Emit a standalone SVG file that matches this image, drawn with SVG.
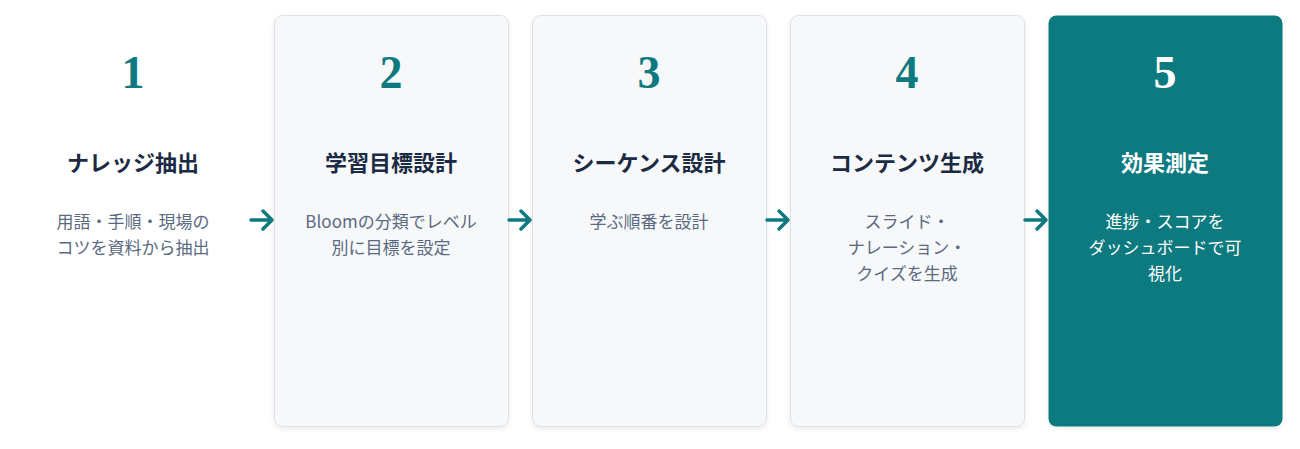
<svg xmlns="http://www.w3.org/2000/svg" width="1300" height="449" viewBox="0 0 1300 449">
<defs>
<filter id="sh" x="-10%" y="-10%" width="120%" height="120%"><feDropShadow dx="0" dy="2" stdDeviation="2.5" flood-color="#000" flood-opacity="0.08"/></filter>
<style>
.card{fill:#f7f8fa;stroke:#dde1e6;stroke-width:1;filter:url(#sh)}
.num{font-family:"Liberation Serif","DejaVu Serif",serif;font-weight:bold;font-size:46px;fill:#0e7a80;text-anchor:middle}
.t{font-family:"Noto Sans CJK JP",sans-serif;font-weight:bold;font-size:22px;fill:#1c2b44;text-anchor:middle}
.d{font-family:"Noto Sans CJK JP",sans-serif;font-size:17px;fill:#5a6a80;text-anchor:middle}
.w{fill:#ffffff}
.ar{fill:none;stroke:#0e7a80;stroke-width:3.5;stroke-linecap:round;stroke-linejoin:round}
</style>
</defs>
<rect width="1300" height="449" fill="#ffffff"/>
<g id="step1">
<text class="num" x="133" y="88">1</text>
<text class="t" x="133" y="171">ナレッジ抽出</text>
<text class="d" x="133" y="228">用語・手順・現場の</text>
<text class="d" x="133" y="254">コツを資料から抽出</text>
</g>
<g id="step2">
<rect class="card" x="274.5" y="15.5" width="234" height="411" rx="8"/>
<text class="num" x="391" y="88">2</text>
<text class="t" x="391" y="171">学習目標設計</text>
<text class="d" x="391" y="228">Bloomの分類でレベル</text>
<text class="d" x="391" y="254">別に目標を設定</text>
</g>
<g id="step3">
<rect class="card" x="532.5" y="15.5" width="234" height="411" rx="8"/>
<text class="num" x="649" y="88">3</text>
<text class="t" x="649" y="171">シーケンス設計</text>
<text class="d" x="649" y="228">学ぶ順番を設計</text>
</g>
<g id="step4">
<rect class="card" x="790.5" y="15.5" width="234" height="411" rx="8"/>
<text class="num" x="907" y="88">4</text>
<text class="t" x="907" y="171">コンテンツ生成</text>
<text class="d" x="907" y="228">スライド・</text>
<text class="d" x="907" y="254">ナレーション・</text>
<text class="d" x="907" y="280">クイズを生成</text>
</g>
<g id="step5">
<rect x="1048.5" y="15.5" width="234" height="411" rx="8" fill="#0e7a80" filter="url(#sh)"/>
<text class="num w" x="1165" y="88" style="fill:#fff">5</text>
<text class="t" x="1165" y="171" style="fill:#fff">効果測定</text>
<text class="d" x="1165" y="228" style="fill:#fff">進捗・スコアを</text>
<text class="d" x="1165" y="254" style="fill:#fff">ダッシュボードで可</text>
<text class="d" x="1165" y="280" style="fill:#fff">視化</text>
</g>
<g id="connectors">
<path class="ar" d="M251 220H272M263 211L272 220L263 229"/>
<path class="ar" d="M509 220H530M521 211L530 220L521 229"/>
<path class="ar" d="M767 220H788M779 211L788 220L779 229"/>
<path class="ar" d="M1025 220H1046M1037 211L1046 220L1037 229"/>
</g>
</svg>
